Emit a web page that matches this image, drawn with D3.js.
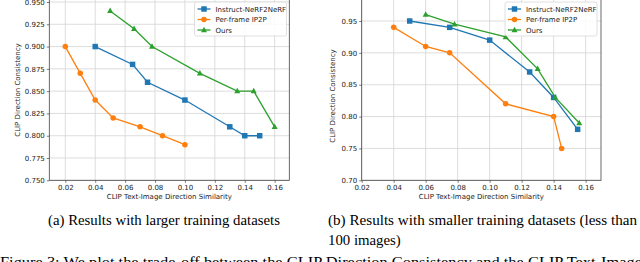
<!DOCTYPE html>
<html>
<head>
<meta charset="utf-8">
<script src="https://cdn.jsdelivr.net/npm/d3@7"></script>
<style>
  body { margin: 0; background: #fff; }
  svg { display: block; }
  .tick text { font-family: 'DejaVu Sans', sans-serif; font-size: 7px; fill: #222; }
  .axisLabel { font-family: 'DejaVu Sans', sans-serif; font-size: 7px; fill: #222; }
  .legendText { font-family: 'DejaVu Sans', sans-serif; font-size: 7px; fill: #222; }
  .caption { font-family: 'Liberation Serif', 'Times New Roman', serif; font-size: 14.8px; fill: #000; }
</style>
</head>
<body>
<div id="figureDiv"></div>
<script>
// series names and colours (matplotlib defaults)
const seriesNames = ['Instruct-NeRF2NeRF', 'Per-frame IP2P', 'Ours'];
const seriesColors = ['#1f77b4', '#ff7f0e', '#2ca02c'];
const seriesMarkers = ['square', 'circle', 'triangle'];

// (a) larger training datasets
const largeInstructX = [0.04, 0.065, 0.075, 0.10, 0.13, 0.14, 0.15];
const largeInstructY = [0.90, 0.88, 0.86, 0.84, 0.81, 0.80, 0.80];
const largeIP2PX = [0.02, 0.03, 0.04, 0.052, 0.07, 0.085, 0.10];
const largeIP2PY = [0.90, 0.87, 0.84, 0.82, 0.81, 0.80, 0.79];
const largeOursX = [0.05, 0.066, 0.078, 0.11, 0.135, 0.146, 0.16];
const largeOursY = [0.94, 0.92, 0.90, 0.87, 0.85, 0.85, 0.81];

// (b) smaller training datasets
const smallInstructX = [0.05, 0.075, 0.10, 0.125, 0.14, 0.155];
const smallInstructY = [0.95, 0.94, 0.92, 0.87, 0.83, 0.78];
const smallIP2PX = [0.04, 0.06, 0.075, 0.11, 0.14, 0.145];
const smallIP2PY = [0.94, 0.91, 0.90, 0.82, 0.80, 0.75];
const smallOursX = [0.06, 0.078, 0.11, 0.13, 0.141, 0.156];
const smallOursY = [0.96, 0.945, 0.925, 0.875, 0.83, 0.79];

// tick labels
const xTicks = [0.02, 0.04, 0.06, 0.08, 0.10, 0.12, 0.14, 0.16];
const largeYTicks = [0.750, 0.775, 0.800, 0.825, 0.850, 0.875, 0.900, 0.925, 0.950];
const smallYTicks = [0.70, 0.75, 0.80, 0.85, 0.90, 0.95];

const xLabel = 'CLIP Text-Image Direction Similarity';
const yLabel = 'CLIP Direction Consistency';
const captionA = '(a) Results with larger training datasets';
const captionB1 = '(b) Results with smaller training datasets (less than';
const captionB2 = '100 images)';
const figureCaption = 'Figure 3: We plot the trade-off between the CLIP Direction Consistency and the CLIP Text-Image';

const zip = (xs, ys) => xs.map((x, i) => ({ x: x, y: ys[i] }));

class Panel {
  constructor(svg, opts) {
    this.svg = svg;
    this.opts = opts;
    this.x = d3.scaleLinear().domain(opts.xDomain).range([opts.left, opts.right]);
    this.y = d3.scaleLinear().domain(opts.yDomain).range(opts.yRange);
  }

  draw() {
    let o = this.opts;
    let g = this.svg.append('g');

    // grid
    g.append('g').selectAll('line.gx').data(o.xTicks).enter()
      .append('line')
      .attr('x1', d => this.x(d)).attr('x2', d => this.x(d))
      .attr('y1', o.top).attr('y2', o.bottom)
      .attr('stroke', '#d4d4d4').attr('stroke-width', 0.8);
    g.append('g').selectAll('line.gy').data(o.yTicks).enter()
      .append('line')
      .attr('x1', o.left).attr('x2', o.right)
      .attr('y1', d => this.y(d)).attr('y2', d => this.y(d))
      .attr('stroke', '#d4d4d4').attr('stroke-width', 0.8);

    // axes
    let xAxis = d3.axisBottom(this.x).tickValues(o.xTicks)
      .tickFormat(d3.format('.2f')).tickSize(2.5).tickPadding(2);
    let yAxis = d3.axisLeft(this.y).tickValues(o.yTicks)
      .tickFormat(d3.format(o.yFormat)).tickSize(2.5).tickPadding(2);

    g.append('g').attr('transform', `translate(0, ${o.bottom})`).call(xAxis)
      .call(a => a.select('.domain').remove())
      .call(a => a.selectAll('.tick line').attr('stroke', '#444').attr('stroke-width', 0.7));
    g.append('g').attr('transform', `translate(${o.left}, 0)`).call(yAxis)
      .call(a => a.select('.domain').remove())
      .call(a => a.selectAll('.tick line').attr('stroke', '#444').attr('stroke-width', 0.7));

    // frame
    g.append('rect')
      .attr('x', o.left).attr('y', o.top)
      .attr('width', o.right - o.left).attr('height', o.bottom - o.top)
      .attr('fill', 'none').attr('stroke', '#444').attr('stroke-width', 0.8);

    g.append('text').attr('class', 'axisLabel')
      .attr('x', (o.left + o.right) / 2).attr('y', o.bottom + 19)
      .attr('text-anchor', 'middle').text(xLabel);
    g.append('text').attr('class', 'axisLabel')
      .attr('transform', `translate(${o.yLabelX}, ${o.yLabelY}) rotate(-90)`)
      .attr('text-anchor', 'middle').text(yLabel);

    // series
    let line = d3.line().x(d => this.x(d.x)).y(d => this.y(d.y));
    o.series.forEach((s, i) => {
      g.append('path').datum(s)
        .attr('d', line)
        .attr('fill', 'none')
        .attr('stroke', seriesColors[i])
        .attr('stroke-width', 1.3);
      g.append('g').selectAll('path').data(s).enter()
        .append('path')
        .attr('transform', d => `translate(${this.x(d.x)}, ${this.y(d.y)})`)
        .attr('d', this.markerPath(seriesMarkers[i]))
        .attr('fill', seriesColors[i]);
    });

    this.drawLegend(g, o.legendX, o.legendY);
  }

  markerPath(kind) {
    if (kind === 'square') return d3.symbol(d3.symbolSquare, 30)();
    if (kind === 'circle') return d3.symbol(d3.symbolCircle, 24)();
    return 'M0,-3.3L3,2.2L-3,2.2Z';
  }

  drawLegend(g, lx, ly) {
    let legend = g.append('g').attr('transform', `translate(${lx}, ${ly})`);
    legend.append('rect')
      .attr('width', 92).attr('height', 34).attr('rx', 2)
      .attr('fill', '#fff').attr('fill-opacity', 0.85)
      .attr('stroke', '#d8d8d8').attr('stroke-width', 0.8);
    seriesNames.forEach((name, i) => {
      let cy = 7 + i * 10.5;
      legend.append('line')
        .attr('x1', 3).attr('x2', 16).attr('y1', cy).attr('y2', cy)
        .attr('stroke', seriesColors[i]).attr('stroke-width', 1.3);
      legend.append('path')
        .attr('transform', `translate(9.5, ${cy})`)
        .attr('d', this.markerPath(seriesMarkers[i]))
        .attr('fill', seriesColors[i]);
      legend.append('text').attr('class', 'legendText')
        .attr('x', 21).attr('y', cy + 2.5).text(name);
    });
  }
}

let svg = d3.select('#figureDiv').append('svg')
  .attr('width', 640).attr('height', 262);

new Panel(svg, {
  left: 49.3, right: 289.3, top: -2, bottom: 180.3,
  xDomain: [0.0093, 0.1698], yDomain: [0.75, 0.95], yRange: [180.3, 2],
  xTicks: xTicks, yTicks: largeYTicks, yFormat: '.3f',
  yLabelX: 20, yLabelY: 90,
  legendX: 194.5, legendY: 2,
  series: [zip(largeInstructX, largeInstructY), zip(largeIP2PX, largeIP2PY), zip(largeOursX, largeOursY)]
}).draw();

new Panel(svg, {
  left: 361.7, right: 601, top: -2, bottom: 180.3,
  xDomain: [0.02, 0.1696], yDomain: [0.70, 0.95], yRange: [180.3, 21],
  xTicks: xTicks, yTicks: smallYTicks, yFormat: '.2f',
  yLabelX: 335, yLabelY: 96,
  legendX: 505, legendY: 2,
  series: [zip(smallInstructX, smallInstructY), zip(smallIP2PX, smallIP2PY), zip(smallOursX, smallOursY)]
}).draw();

// captions
svg.append('text').attr('class', 'caption').attr('x', 164).attr('y', 225)
  .attr('text-anchor', 'middle').text(captionA);
svg.append('text').attr('class', 'caption').attr('x', 328).attr('y', 225)
  .attr('textLength', 309).attr('lengthAdjust', 'spacingAndGlyphs').text(captionB1);
svg.append('text').attr('class', 'caption').attr('x', 328).attr('y', 245).text(captionB2);
svg.append('text').attr('class', 'caption').attr('x', 0).attr('y', 267)
  .attr('textLength', 642).attr('lengthAdjust', 'spacingAndGlyphs').text(figureCaption);
</script>
</body>
</html>
